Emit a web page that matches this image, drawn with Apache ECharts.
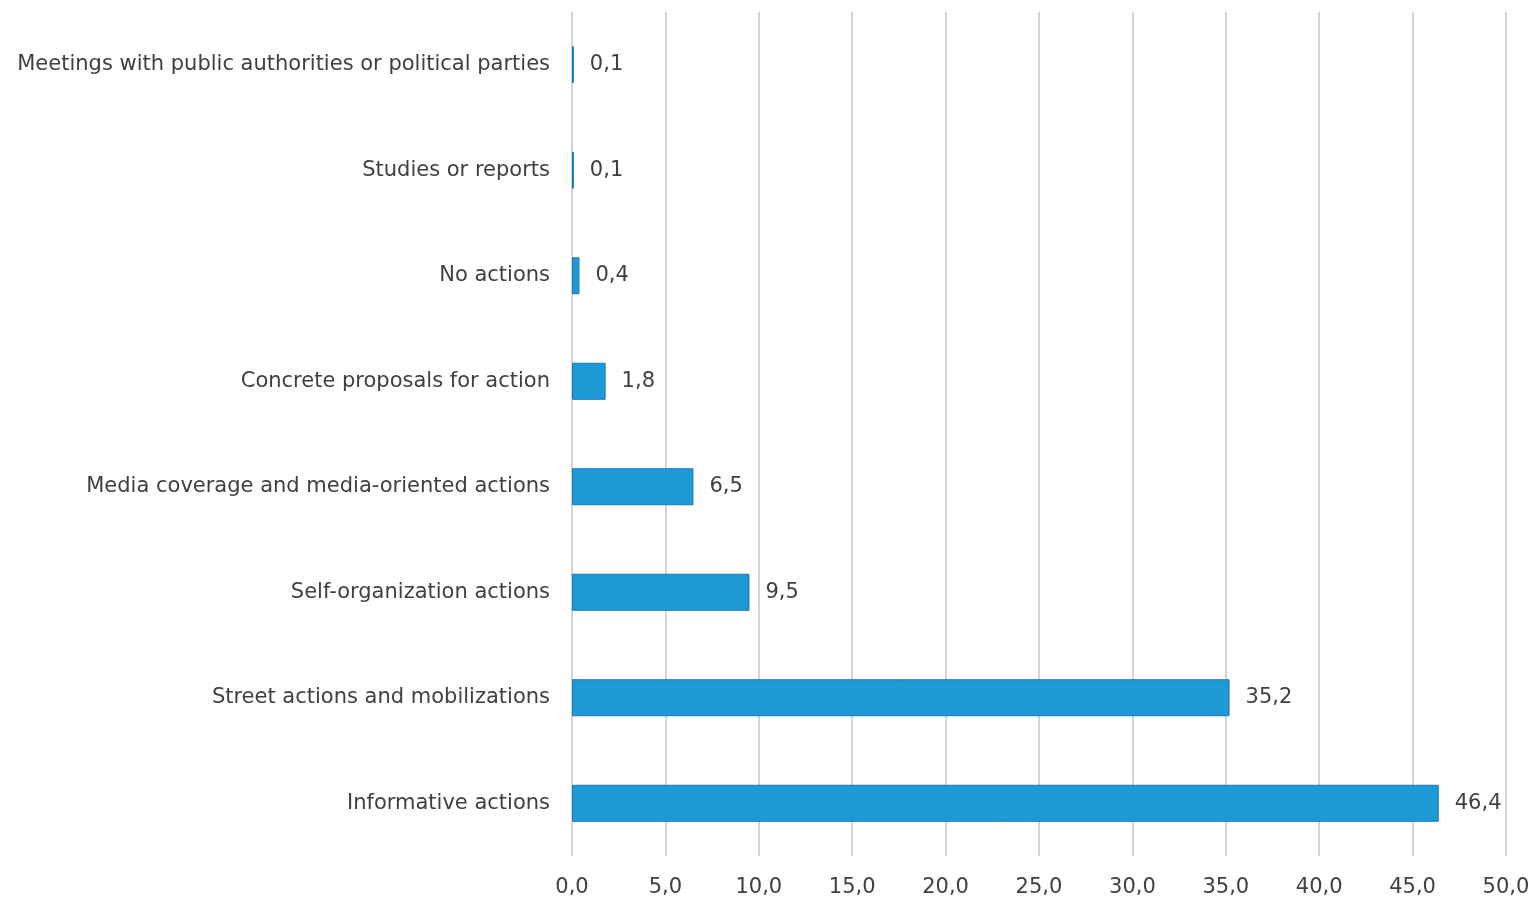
<!DOCTYPE html>
<html>
<head>
<meta charset="utf-8">
<script src="https://cdn.jsdelivr.net/npm/echarts@6/dist/echarts.min.js"></script>
<style>
    html, body {margin: 0; padding: 0; background: #fff;}
    #chart {width: 1536px; height: 913px;}
</style>
</head>
<body>
<div id="chart"></div>
<script>
// categories listed bottom to top
var categories = [
    'Informative actions',
    'Street actions and mobilizations',
    'Self-organization actions',
    'Media coverage and media-oriented actions',
    'Concrete proposals for action',
    'No actions',
    'Studies or reports',
    'Meetings with public authorities or political parties'
];
var values = [46.4, 35.2, 9.5, 6.5, 1.8, 0.4, 0.1, 0.1];

function comma(v, digits) {
    return Number(v).toFixed(digits).replace('.', ',');
}

var chart = echarts.init(document.getElementById('chart'));

chart.setOption({
    animation: false,
    textStyle: {fontFamily: 'DejaVu Sans'},
    grid: {left: 572, right: 30, top: 12, bottom: 57, containLabel: false},
    xAxis: {
        type: 'value',
        min: 0,
        max: 50,
        interval: 5,
        axisLine: {show: false},
        axisTick: {show: false},
        splitLine: {lineStyle: {color: '#d4d4d4', width: 2}},
        axisLabel: {
            color: '#404040',
            fontSize: 21,
            margin: 21,
            formatter: function (v) {
                return comma(v, 1);
            }
        }
    },
    yAxis: {
        type: 'category',
        data: categories,
        axisLine: {show: false},
        axisTick: {show: false},
        axisLabel: {color: '#404040', fontSize: 21, margin: 22, padding: [4, 0, 0, 0]}
    },
    series: [{
        type: 'bar',
        data: values,
        barWidth: 37,
        itemStyle: {color: '#1d9ad6', borderColor: '#1877b5', borderWidth: 1},
        label: {
            show: true,
            position: 'right',
            distance: 16,
            color: '#404040',
            fontSize: 21,
            padding: [4, 0, 0, 0],
            formatter: function (p) {
                return comma(p.value, 1);
            }
        }
    }]
});
</script>
</body>
</html>
